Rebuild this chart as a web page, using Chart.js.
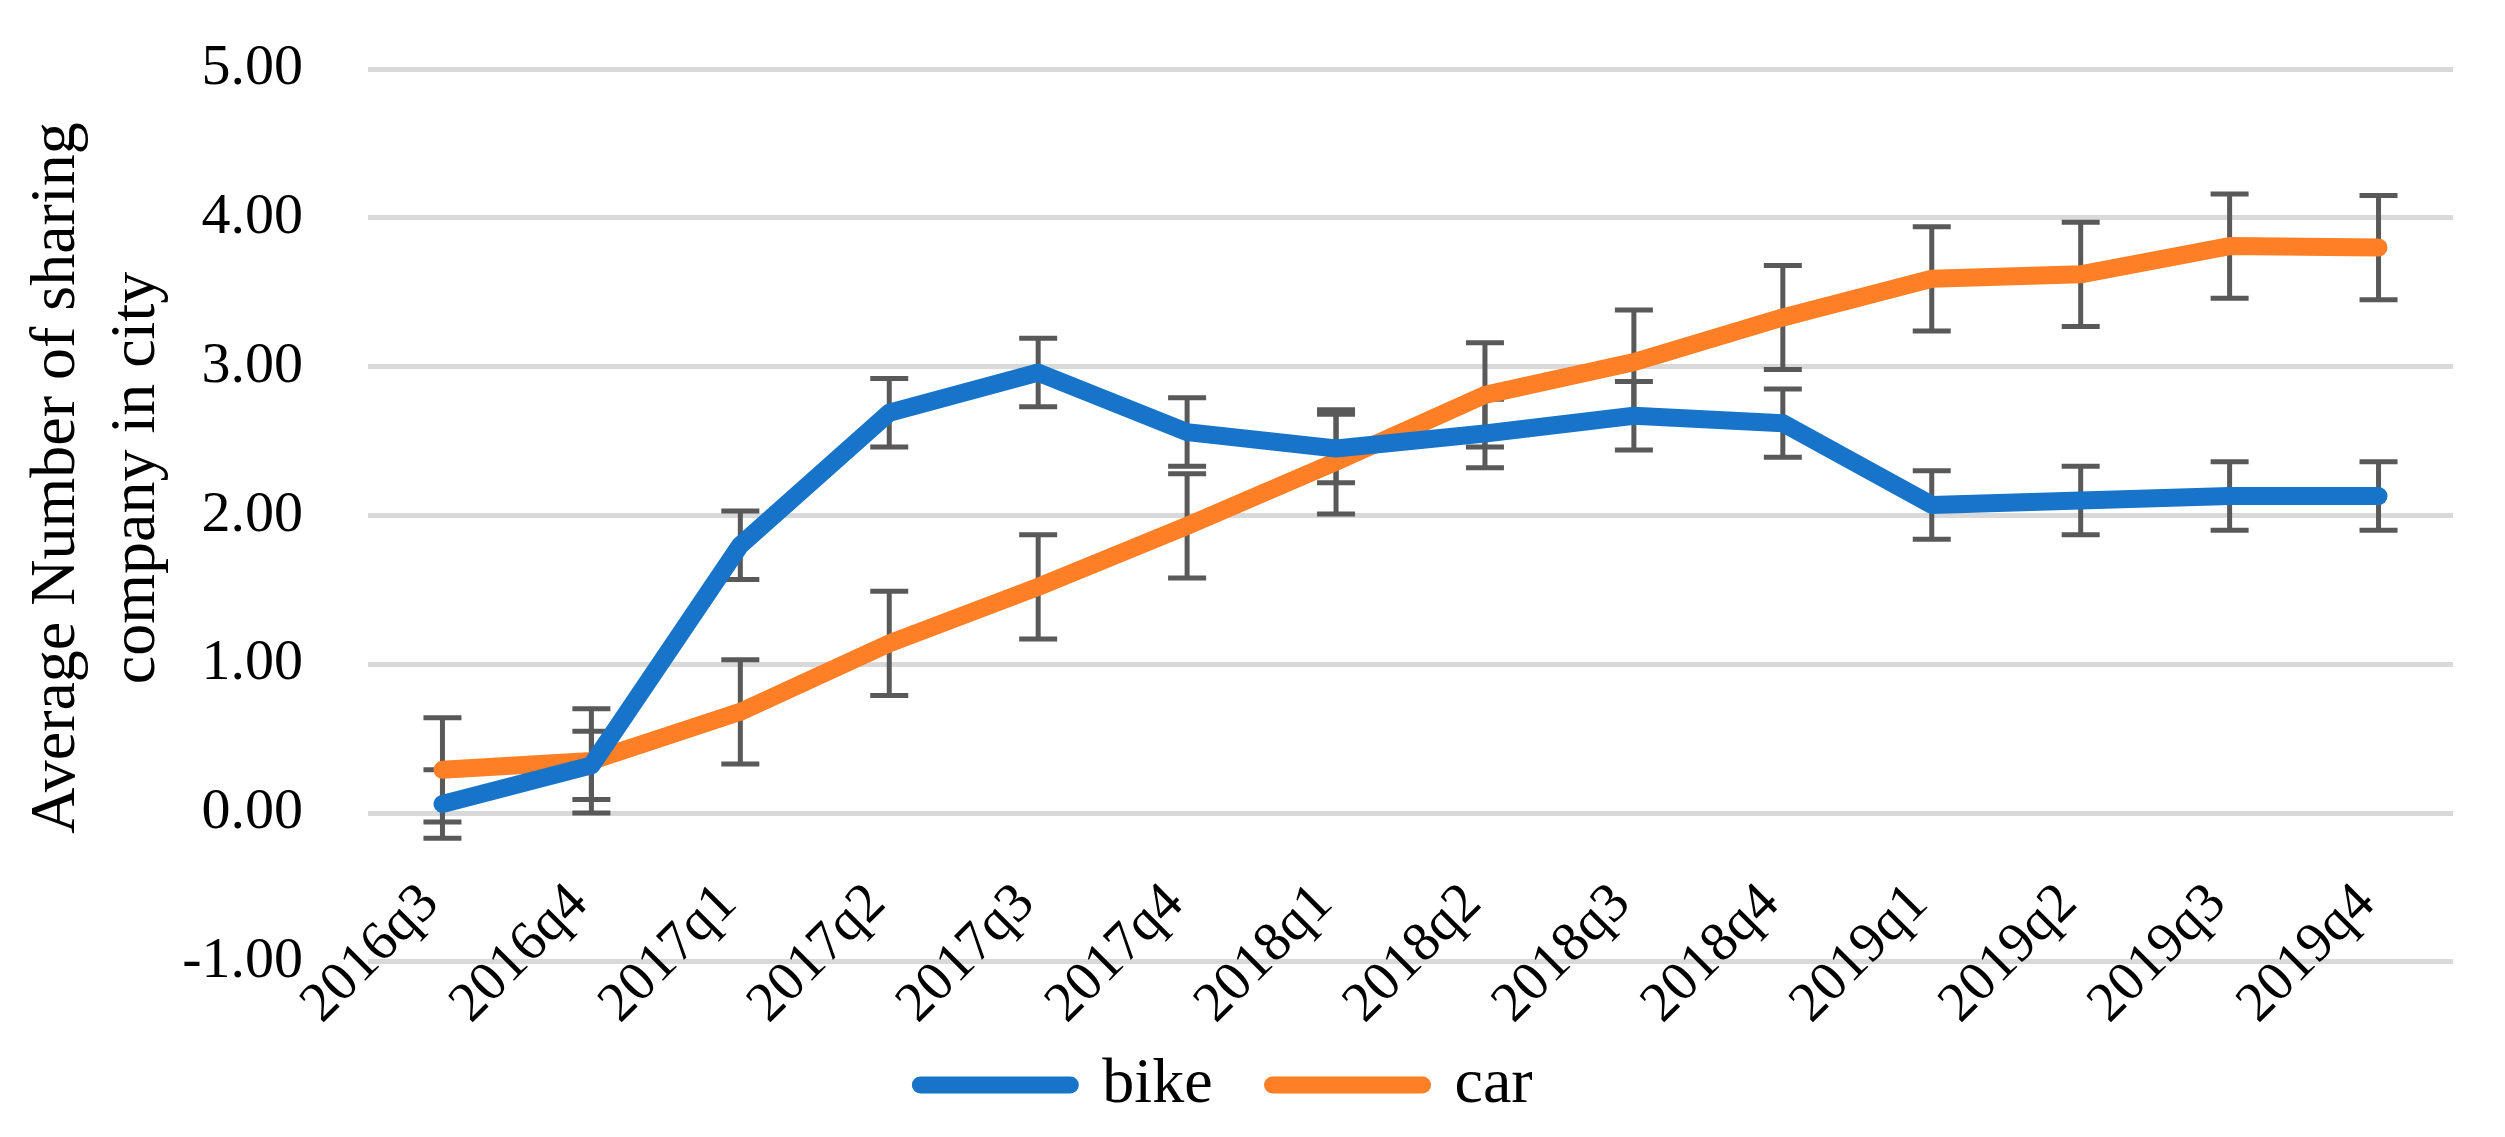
<!DOCTYPE html>
<html>
<head>
<meta charset="utf-8">
<script src="https://cdn.jsdelivr.net/npm/chart.js@4.4.1/dist/chart.umd.min.js"></script>
<style>
  html, body { margin: 0; padding: 0; background: #fff; }
  #wrap { width: 2505px; height: 1137px; position: relative; }
</style>
</head>
<body>
<div id="wrap"><canvas id="chart"></canvas></div>
<script>
const quarters = ['2016q3', '2016q4', '2017q1', '2017q2', '2017q3', '2017q4', '2018q1',
  '2018q2', '2018q3', '2018q4', '2019q1', '2019q2', '2019q3', '2019q4']
const bike = [0.06, 0.32, 1.80, 2.69, 2.96, 2.56, 2.45, 2.55, 2.67, 2.62, 2.07, 2.10, 2.13, 2.13]
const car = [0.29, 0.35, 0.68, 1.14, 1.52, 1.93, 2.36, 2.81, 3.03, 3.33, 3.59, 3.62, 3.81, 3.80]
// half-length of the error bars
const bikeErr = [0.23, 0.23, 0.23, 0.23, 0.23, 0.23, 0.23, 0.23, 0.23, 0.23, 0.23, 0.23, 0.23, 0.23]
const carErr = [0.35, 0.35, 0.35, 0.35, 0.35, 0.35, 0.35, 0.35, 0.35, 0.35, 0.35, 0.35, 0.35, 0.35]
const yTicks = [-1, 0, 1, 2, 3, 4, 5]
const yTitle = ['Average Number of sharing', 'company in city']

const BLUE = '#1874C9'
const ORANGE = '#FF7F27'
const FONT = '"Liberation Serif", "Times New Roman", serif'

const errorBars = {
  id: 'errorBars',
  beforeDatasetsDraw(chart) {
    const { ctx, scales: { x, y } } = chart
    const errs = [bikeErr, carErr]
    ctx.save()
    ctx.strokeStyle = '#595959'
    ctx.lineWidth = 5
    ctx.lineCap = 'butt'
    chart.data.datasets.forEach((ds, i) => {
      ds.data.forEach((v, j) => {
        const px = x.getPixelForValue(j)
        const top = y.getPixelForValue(v + errs[i][j])
        const bot = y.getPixelForValue(v - errs[i][j])
        ctx.beginPath()
        ctx.moveTo(px, top); ctx.lineTo(px, bot)
        ctx.moveTo(px - 19, top); ctx.lineTo(px + 19, top)
        ctx.moveTo(px - 19, bot); ctx.lineTo(px + 19, bot)
        ctx.stroke()
      })
    })
    ctx.restore()
  }
}

// y title sits a little above the axis middle, as in the original
const axisTitle = {
  id: 'axisTitle',
  afterDraw(chart) {
    const { ctx } = chart
    ctx.save()
    ctx.fillStyle = '#000'
    ctx.font = '64px ' + FONT
    ctx.textAlign = 'center'
    ctx.textBaseline = 'middle'
    yTitle.forEach((line, i) => {
      ctx.save()
      ctx.translate(57 + i * 80, 478)
      ctx.rotate(-Math.PI / 2)
      ctx.fillText(line, 0, 0)
      ctx.restore()
    })
    ctx.restore()
  }
}

const lineSet = (label, data, color) => ({
  label, data,
  borderColor: color,
  backgroundColor: color,
  borderWidth: 18,
  borderCapStyle: 'round',
  borderJoinStyle: 'round',
  pointRadius: 0,
  tension: 0
})

new Chart(document.getElementById('chart'), {
  type: 'line',
  data: {
    labels: quarters,
    datasets: [lineSet('bike', bike, BLUE), lineSet('car', car, ORANGE)]
  },
  plugins: [errorBars, axisTitle],
  options: {
    responsive: true,
    maintainAspectRatio: false,
    animation: false,
    layout: { padding: { left: 0, right: 52, top: 69, bottom: 10 } },
    plugins: {
      tooltip: { enabled: false },
      legend: {
        position: 'bottom',
        title: { display: true, text: '', font: { size: 1 }, padding: { top: 30, bottom: 0 } },
        labels: {
          usePointStyle: true,
          pointStyle: 'line',
          pointStyleWidth: 150,
          padding: 60,
          color: '#000',
          font: { family: FONT, size: 64 },
          generateLabels: (chart) => chart.data.datasets.map((ds, i) => ({
            text: ds.label,
            fillStyle: ds.borderColor,
            strokeStyle: ds.borderColor,
            lineWidth: 17,
            lineCap: 'round',
            pointStyle: 'line',
            fontColor: '#000',
            hidden: false,
            datasetIndex: i
          }))
        }
      }
    },
    scales: {
      x: {
        position: { y: 0 },
        offset: true,
        grid: { display: false },
        border: { display: false },
        afterFit: (s) => { s.height = 0; s.paddingLeft = 0; s.paddingRight = 0 },
        ticks: {
          autoSkip: false,
          minRotation: 45,
          maxRotation: 45,
          padding: 50,
          labelOffset: -12,
          color: '#000',
          font: { family: FONT, size: 56 }
        }
      },
      y: {
        min: -1,
        max: 5,
        afterBuildTicks: (s) => { s.ticks = yTicks.map(v => ({ value: v })) },
        afterFit: (s) => { s.width = 368; s.paddingTop = 0; s.paddingBottom = 0 },
        grid: { color: '#D9D9D9', lineWidth: 5, drawTicks: false },
        border: { display: false },
        ticks: {
          padding: 65,
          color: '#000',
          font: { family: FONT, size: 58 },
          callback: (v) => Number(v).toFixed(2)
        },
        title: { display: false }
      }
    }
  }
})
</script>
</body>
</html>
